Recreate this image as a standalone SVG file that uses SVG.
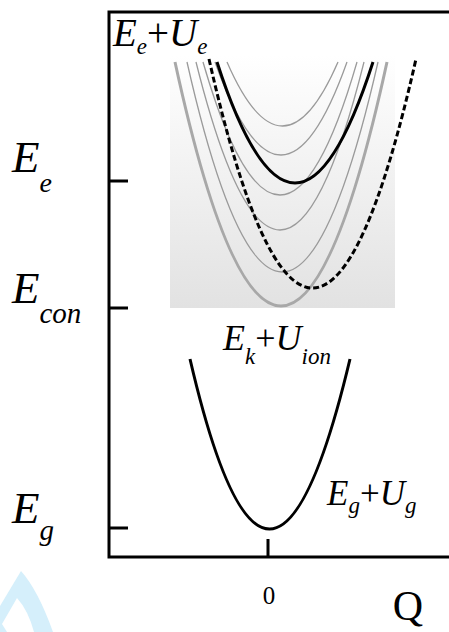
<svg xmlns="http://www.w3.org/2000/svg" width="449" height="632" viewBox="0 0 449 632">
<defs>
<linearGradient id="bg" x1="0" y1="0" x2="0" y2="1">
<stop offset="0" stop-color="#ffffff"/>
<stop offset="1" stop-color="#e2e2e2"/>
</linearGradient>
<style>
.ax{stroke:#000;stroke-width:3;fill:none}
.thin{stroke:#9a9a9a;stroke-width:1.3;fill:none}
.thick{stroke:#a8a8a8;stroke-width:3;fill:none}
.blk{stroke:#000;stroke-width:3;fill:none}
.dash{stroke:#000;stroke-width:3;fill:none;stroke-dasharray:6 3}
</style>
</defs>
<rect width="449" height="632" fill="#fff"/>
<path fill="#d5effb" fill-rule="evenodd" d="M0,606 L21,571 Q38,590 53,632 L0,632 Z M2,624 L17,598 Q28,610 34,632 L7,632 Z"/>
<g id="frame">
<path class="ax" d="M449,12 L109,12 L109,557 L449,557"/>
<path class="ax" d="M109,181 H128 M109,308 H128 M109,528 H128 M268,539 V556"/>
</g>
<g id="excited-panel">
<rect x="170" y="55" width="225" height="253" fill="url(#bg)"/>
<path class="thick" d="M175,62 Q281,550 387,62"/>
<path class="thin" d="M227,62 Q282.5,190 338,62"/>
<path class="thin" d="M215,62 Q281,248 347,62"/>
<path class="thin" d="M203,62 Q280,328 357,62"/>
<path class="thin" d="M196,62 Q280,398 364,62"/>
<path class="thin" d="M187,62 Q282,482 378,62"/>
<path class="blk" d="M217,62 Q295,304 373,62"/>
<path class="dash" d="M209,59 Q312.5,517 416,59"/>
</g>
<g id="ground">
<path class="blk" d="M190,359 Q269,699 350,359"/>
</g>
<g id="labels" font-family="'Liberation Serif', 'Times New Roman', 'DejaVu Serif', serif" fill="#000">
<text font-style="italic" x="113" y="46" font-size="39">E<tspan font-size="23" dy="8">e</tspan><tspan font-style="normal" dy="-8">+</tspan>U<tspan font-size="23" dy="8">e</tspan></text>
<text font-style="italic" x="12" y="172" font-size="45">E<tspan font-size="28" dy="20">e</tspan></text>
<text font-style="italic" x="12" y="303" font-size="45">E<tspan font-size="29" dy="20">con</tspan></text>
<text font-style="italic" x="12" y="523" font-size="45">E<tspan font-size="29" dy="17">g</tspan></text>
<text font-style="italic" x="223" y="350" font-size="36">E<tspan font-size="23" dy="14">k</tspan><tspan font-style="normal" dy="-14">+</tspan>U<tspan font-size="23" dy="14">ion</tspan></text>
<text font-style="italic" x="327" y="505" font-size="35">E<tspan font-size="23" dy="8">g</tspan><tspan font-style="normal" dy="-8">+</tspan>U<tspan font-size="23" dy="8">g</tspan></text>
<text x="269" y="604" font-size="25" text-anchor="middle">0</text>
<text x="408" y="620" font-size="42" text-anchor="middle">Q</text>
</g>
</svg>
